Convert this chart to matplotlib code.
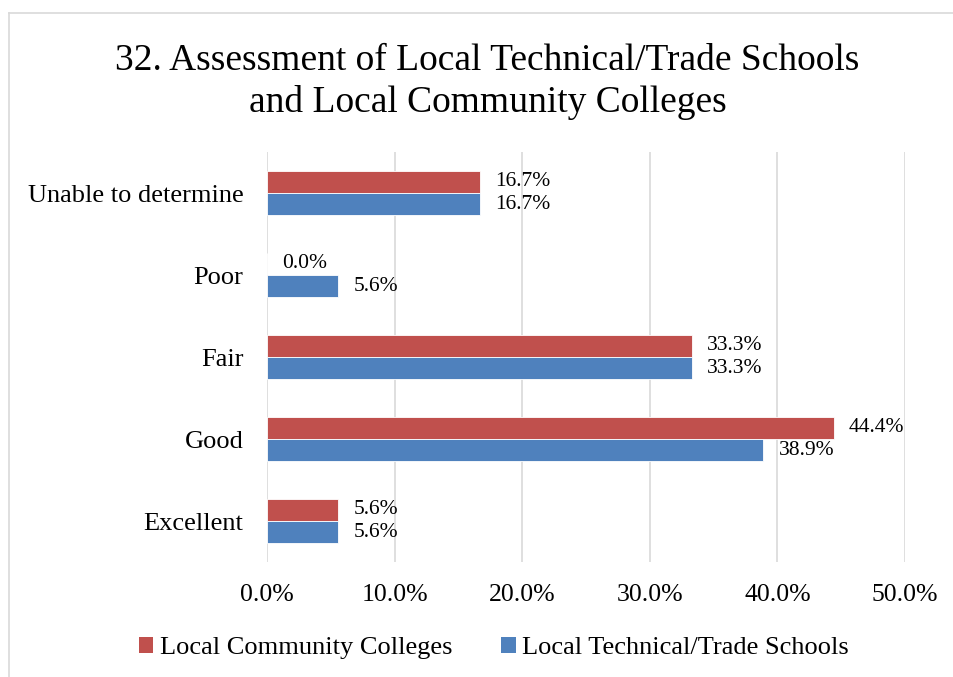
import matplotlib
matplotlib.use("Agg")
import matplotlib.pyplot as plt
from matplotlib.lines import Line2D
from matplotlib.patches import Patch
import numpy as np

categories = ["Excellent", "Good", "Fair", "Poor", "Unable to determine"]
community_colleges = [5.6, 44.4, 33.3, 0.0, 16.7]
technical_schools = [5.6, 38.9, 33.3, 5.6, 16.7]
x_ticks = [0, 10, 20, 30, 40, 50]
series_names = ["Local Community Colleges", "Local Technical/Trade Schools"]
title = "32. Assessment of Local Technical/Trade Schools\nand Local Community Colleges"

RED = "#C0504D"
BLUE = "#4F81BD"
SERIF = "Liberation Serif"

plt.rcParams["font.family"] = SERIF

fig = plt.figure(figsize=(9.54, 6.77), dpi=100)
ax = fig.add_axes([267 / 954, 1 - 562 / 677, (905 - 267) / 954, (562 - 152) / 677])

y = np.arange(len(categories))
h = 0.27
bars_red = ax.barh(y + h / 2, community_colleges, height=h, color=RED,
                   edgecolor="white", linewidth=0.6, zorder=3)
bars_blue = ax.barh(y - h / 2, technical_schools, height=h, color=BLUE,
                    edgecolor="white", linewidth=0.6, zorder=3)

for bars, vals in ((bars_red, community_colleges), (bars_blue, technical_schools)):
    for b, v in zip(bars, vals):
        ax.annotate(f"{v:.1f}%", (v, b.get_y() + b.get_height() / 2),
                    xytext=(11, 0), textcoords="offset points",
                    ha="left", va="center", fontsize=15.5, color="black")

ax.set_xlim(0, 50)
ax.set_ylim(-0.5, len(categories) - 0.5)
ax.set_xticks(x_ticks)
ax.set_xticklabels([f"{t:.1f}%" for t in x_ticks], fontsize=18.5)
ax.set_yticks(y)
ax.set_yticklabels(categories, fontsize=19)
ax.tick_params(axis="both", length=0, pad=16)
ax.tick_params(axis="y", pad=17)
ax.grid(axis="x", color="#D9D9D9", linewidth=1.2, zorder=0)
for s in ax.spines.values():
    s.set_visible(False)

fig.text(487.5 / 954, 1 - 82 / 677, title, ha="center", va="center",
         fontsize=27, linespacing=1.25)

handles = [Patch(facecolor=RED), Patch(facecolor=BLUE)]
fig.legend(handles, series_names, loc="center", bbox_to_anchor=(494 / 954, 1 - 648 / 677),
           ncol=2, frameon=False, fontsize=19, handlelength=0.55, handleheight=0.55,
           handletextpad=0.25, columnspacing=1.85)

fig.add_artist(Line2D([9 / 954, 1], [1 - 12.5 / 677, 1 - 12.5 / 677],
                      transform=fig.transFigure, color="#D9D9D9", linewidth=1.2))
fig.add_artist(Line2D([9 / 954, 9 / 954], [0, 1 - 12.5 / 677],
                      transform=fig.transFigure, color="#D9D9D9", linewidth=1.2))

fig.savefig("out.png", dpi=100, facecolor="white")
